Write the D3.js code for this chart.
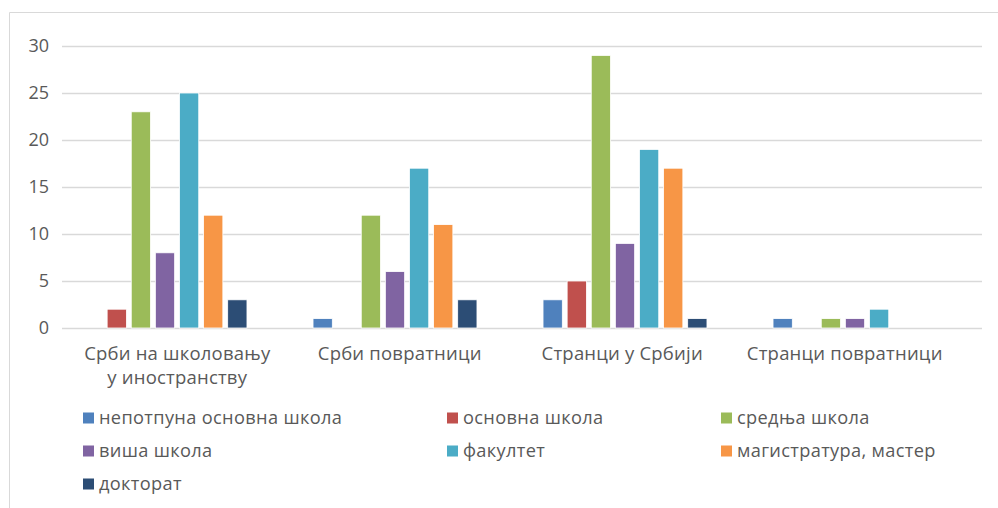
<!DOCTYPE html>
<html>
<head>
<meta charset="utf-8">
<script src="https://cdn.jsdelivr.net/npm/d3@7"></script>
<style>
  html, body { margin: 0; padding: 0; background: #fff; }
  svg { display: block; }
  text { font-family: "Open Sans", "Noto Sans", sans-serif; fill: #595959; }
</style>
</head>
<body>
<svg id="chart" width="998" height="508"></svg>
<script>
// Categories (respondent groups), each may wrap onto two lines
const categories = [
  ["Срби на школовању", "у иностранству"],
  ["Срби повратници"],
  ["Странци у Србији"],
  ["Странци повратници"]
];

// Education levels (series)
const seriesNames = [
  "непотпуна основна школа",
  "основна школа",
  "средња школа",
  "виша школа",
  "факултет",
  "магистратура, мастер",
  "докторат"
];

const seriesColors = ["#4f81bd", "#c0504d", "#9bbb59", "#8064a2", "#4bacc6", "#f79646", "#2c4d75"];

// Counts per series, one value per category
const nepotpuna    = [0, 1, 3, 1];
const osnovna      = [2, 0, 5, 0];
const srednja      = [23, 12, 29, 1];
const visa         = [8, 6, 9, 1];
const fakultet     = [25, 17, 19, 2];
const magistratura = [12, 11, 17, 0];
const doktorat     = [3, 3, 1, 0];

const yTicks = [0, 5, 10, 15, 20, 25, 30];

const seriesValues = [nepotpuna, osnovna, srednja, visa, fakultet, magistratura, doktorat];
const catKeys = categories.map(c => c.join(" "));

const svg = d3.select("#chart");

// Outer frame (left and top edges)
svg.append("path")
  .attr("d", "M9.5,508 V12.5 H998")
  .attr("fill", "none")
  .attr("stroke", "#d9d9d9")
  .attr("stroke-width", 1);

const y = d3.scaleLinear().domain([0, 30]).range([328, 46]);

const x0 = d3.scaleBand().domain(catKeys).range([50, 970]);
const x1 = d3.scaleBand().domain(seriesNames)
  .range([0, x0.bandwidth()])
  .paddingInner(0.2)
  .paddingOuter(1.37);

// Label positions for category axis
const xLabel = d3.scaleBand().domain(catKeys).range([66, 956]);

// Gridlines
svg.append("g")
  .selectAll("line")
  .data(yTicks)
  .join("line")
  .attr("x1", 62).attr("x2", 982)
  .attr("y1", d => Math.round(y(d)) + 0.5)
  .attr("y2", d => Math.round(y(d)) + 0.5)
  .attr("stroke", "#d9d9d9")
  .attr("stroke-width", 1.3);

// Y tick labels
svg.append("g")
  .selectAll("text")
  .data(yTicks)
  .join("text")
  .attr("x", 49)
  .attr("y", d => y(d))
  .attr("dy", "0.35em")
  .attr("text-anchor", "end")
  .attr("font-size", 18)
  .text(d => d);

// Bars
const rows = [];
catKeys.forEach((c, ci) => {
  seriesNames.forEach((s, si) => {
    rows.push({ cat: c, series: s, value: seriesValues[si][ci], color: seriesColors[si] });
  });
});

svg.append("g")
  .selectAll("rect")
  .data(rows.filter(d => d.value > 0))
  .join("rect")
  .attr("x", d => x0(d.cat) + x1(d.series))
  .attr("width", x1.bandwidth())
  .attr("y", d => y(d.value))
  .attr("height", d => y(0) - y(d.value))
  .attr("fill", d => d.color)
  .attr("stroke", "#ffffff")
  .attr("stroke-width", 0.8);

// Category labels
const catLabels = svg.append("g")
  .selectAll("text")
  .data(categories)
  .join("text")
  .attr("x", (d, i) => xLabel(catKeys[i]) + xLabel.bandwidth() / 2)
  .attr("y", 360)
  .attr("text-anchor", "middle")
  .attr("font-size", 18.5)
  .attr("letter-spacing", 0.2);

catLabels.selectAll("tspan")
  .data(d => d)
  .join("tspan")
  .attr("x", function () { return d3.select(this.parentNode).attr("x"); })
  .attr("dy", (d, i) => i === 0 ? 0 : 24)
  .text(d => d);

// Legend
const legendCols = [83, 447, 721];
const legendRows = [418, 451, 484];
const legend = svg.append("g")
  .selectAll("g")
  .data(seriesNames)
  .join("g")
  .attr("transform", (d, i) => `translate(${legendCols[i % 3]},${legendRows[Math.floor(i / 3)]})`);

legend.append("rect")
  .attr("x", 0).attr("y", -5.5)
  .attr("width", 11).attr("height", 11)
  .attr("fill", (d, i) => seriesColors[i]);

legend.append("text")
  .attr("x", 16)
  .attr("y", 0)
  .attr("dy", "0.35em")
  .attr("font-size", 18.2)
  .attr("letter-spacing", 0.35)
  .text(d => d);
</script>
</body>
</html>
